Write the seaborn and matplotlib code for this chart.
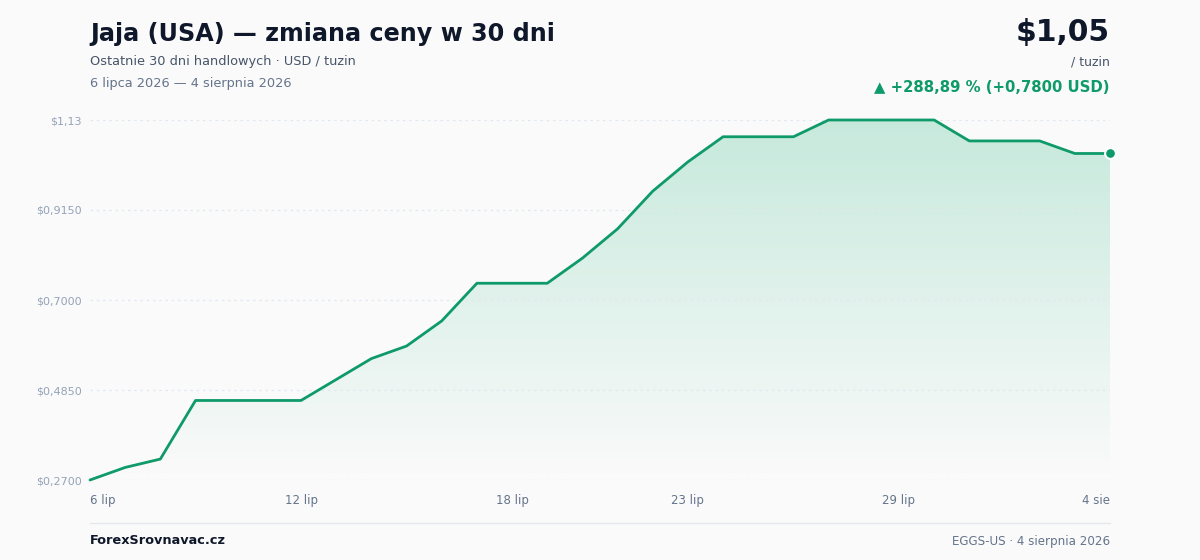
import numpy as np
import pandas as pd
import matplotlib
matplotlib.use('Agg')
import matplotlib.pyplot as plt
import seaborn as sns
from matplotlib.colors import LinearSegmentedColormap

# --- Dane (cena jaj, USD / tuzin, 30 dni handlowych)
dzien = list(range(30))
cena = [0.27, 0.30, 0.32, 0.46, 0.46, 0.46, 0.46, 0.51, 0.56, 0.59,
        0.65, 0.74, 0.74, 0.74, 0.80, 0.87, 0.96, 1.03, 1.09, 1.09,
        1.09, 1.13, 1.13, 1.13, 1.13, 1.08, 1.08, 1.08, 1.05, 1.05]
x_ticks = [0, 6, 12, 17, 23, 29]
x_labels = ['6 lip', '12 lip', '18 lip', '23 lip', '29 lip', '4 sie']
y_ticks = [0.27, 0.485, 0.70, 0.915, 1.13]
y_labels = ['$0,2700', '$0,4850', '$0,7000', '$0,9150', '$1,13']

dane = pd.DataFrame({'dzien': dzien, 'cena': cena})

ZIELONY = '#0f9a6a'
TLO = '#fafafa'

sns.set_theme(style='white')
plt.rcParams['font.family'] = ['DejaVu Sans']

fig = plt.figure(figsize=(12, 5.6), dpi=100, facecolor=TLO)
ax = fig.add_axes([0.075, 1 - 480 / 560, 0.85, 360 / 560])
ax.set_facecolor(TLO)

ax.set_xlim(0, 29)
ax.set_ylim(0.27, 1.13)

# --- siatka (nad wypełnieniem)
for yt in y_ticks:
    ax.axhline(yt, color='#e2e8f0', lw=0.9, ls=(0, (2, 3)), zorder=2)

# --- gradient pod linią
cmap = LinearSegmentedColormap.from_list('g', [(0.06, 0.68, 0.45, 0.0), (0.06, 0.68, 0.45, 0.22)])
grad = np.linspace(0, 1, 256).reshape(-1, 1)
im = ax.imshow(grad, cmap=cmap, aspect='auto', origin='lower',
               extent=[0, 29, 0.27, 1.13], zorder=1)
poly = ax.fill_between(dane['dzien'], dane['cena'], 0.27, color='none', lw=0)
clip = poly.get_paths()[0]
im.set_clip_path(clip, transform=ax.transData)

sns.lineplot(data=dane, x='dzien', y='cena', ax=ax, color=ZIELONY, lw=2, zorder=3)
for l in ax.lines[-1:]:
    l.set_clip_on(False)
ax.scatter([dzien[-1]], [cena[-1]], s=60, color=ZIELONY, edgecolor='white',
           linewidth=1.5, zorder=4, clip_on=False)

# --- osie
for s in ax.spines.values():
    s.set_visible(False)
ax.set_xlabel('')
ax.set_ylabel('')
ax.set_yticks(y_ticks)
ax.set_yticklabels(y_labels, fontsize=8, color='#94a3b8')
ax.set_xticks(x_ticks)
ax.set_xticklabels(x_labels, fontsize=8.5, color='#64748b')
ax.tick_params(axis='both', length=0)
ax.tick_params(axis='y', pad=6)
ax.tick_params(axis='x', pad=10)
xt = ax.get_xticklabels()
xt[0].set_ha('left')
xt[-1].set_ha('right')

# --- nagłówek
fig.text(90 / 1200, 1 - 34 / 560, 'Jaja (USA) — zmiana ceny w 30 dni', fontsize=17.2,
         fontweight='bold', color='#0f172a', va='center', ha='left')
fig.text(90 / 1200, 1 - 62 / 560, 'Ostatnie 30 dni handlowych · USD / tuzin', fontsize=9.25,
         color='#475569', va='center', ha='left')
fig.text(90 / 1200, 1 - 84 / 560, '6 lipca 2026 — 4 sierpnia 2026', fontsize=9.3,
         color='#64748b', va='center', ha='left')

fig.text(1110 / 1200, 1 - 33 / 560, '$1,05', fontsize=21.5, fontweight='bold',
         color='#0f172a', va='center', ha='right')
fig.text(1110 / 1200, 1 - 62 / 560, '/ tuzin', fontsize=9, color='#475569',
         va='center', ha='right')
fig.text(1110 / 1200, 1 - 87 / 560, '▲ +288,89 % (+0,7800 USD)', fontsize=10.7,
         fontweight='bold', color=ZIELONY, va='center', ha='right')

# --- stopka
fig.add_artist(plt.Line2D([90 / 1200, 1110 / 1200], [1 - 523 / 560] * 2,
                          color='#e5e7eb', lw=1))
fig.text(90 / 1200, 1 - 541 / 560, 'ForexSrovnavac.cz', fontsize=9.3, fontweight='bold',
         color='#0f172a', va='center', ha='left')
fig.text(1110 / 1200, 1 - 541 / 560, 'EGGS-US · 4 sierpnia 2026', fontsize=8.6,
         color='#64748b', va='center', ha='right')

fig.savefig('out.png', dpi=100, facecolor=TLO)
